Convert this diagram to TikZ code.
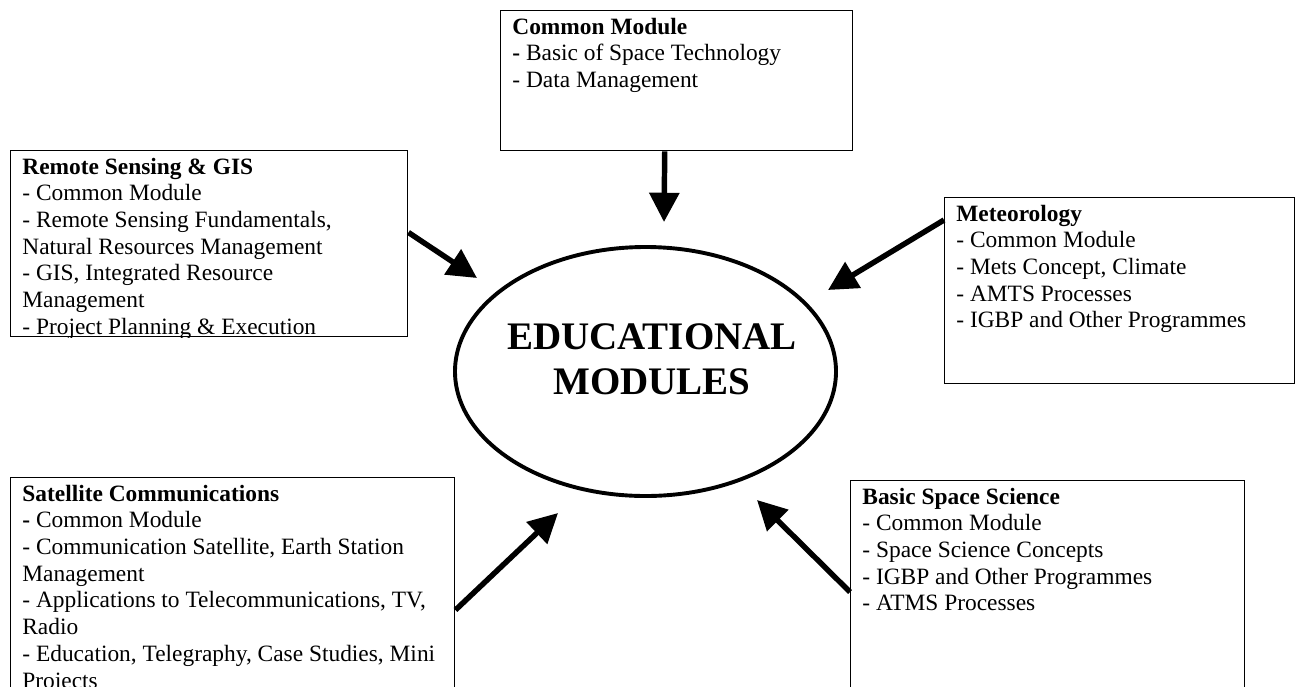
\documentclass[tikz,border=0pt]{standalone}
\usepackage{fontspec}
\setmainfont{Liberation Serif}
\usetikzlibrary{arrows.meta,calc,shapes.geometric}
\newdimen\PX
\PX=0.5128pt
\begin{document}
\begin{tikzpicture}[x=0.5128pt,y=-0.5128pt,
  box/.style={draw, line width=0.75pt, rectangle, inner sep=0pt, anchor=north west},
  txt/.style={anchor=north west, inner sep=0pt, font=\fontsize{12pt}{13.7pt}\selectfont},
  arr/.style={line width=2.8pt, -{Triangle[length=15pt,width=15pt]}},
  mainell/.style={ellipse, draw, line width=2pt, inner sep=0pt},
  maintxt/.style={font=\fontsize{20pt}{23pt}\selectfont\bfseries, align=center, inner sep=0pt}
]
\useasboundingbox (0,0) rectangle (1300,686);

% boxes
\node[box, minimum width=352*\PX, minimum height=140*\PX] (cm) at (500,10) {};
\node[box, minimum width=397*\PX, minimum height=186*\PX] (rs) at (10,150) {};
\node[box, minimum width=350*\PX, minimum height=186*\PX] (met) at (944,197) {};
\node[box, minimum width=444*\PX, minimum height=260*\PX] (sat) at (10,477) {};
\node[box, minimum width=394*\PX, minimum height=260*\PX] (bss) at (850,480) {};

% box texts
\node[txt] (cmt) at ($(cm.north west)+(12,5)$) {\parbox[t]{500\PX}{\strut\textbf{Common Module}\\\textbf{-} Basic of Space Technology\\- Data Management}};

\begin{scope}
\clip (rs.north west) rectangle (rs.south east);
\node[txt] (rst) at ($(rs.north west)+(12,5)$) {\parbox[t]{500\PX}{\strut\textbf{Remote Sensing \& GIS}\\- Common Module\\- Remote Sensing Fundamentals,\\Natural Resources Management\\- GIS, Integrated Resource\\Management\\- Project Planning \& Execution}};
\end{scope}

\node[txt] (mett) at ($(met.north west)+(12,5)$) {\parbox[t]{500\PX}{\strut\textbf{Meteorology}\\- Common Module\\- Mets Concept, Climate\\- AMTS Processes\\- IGBP and Other Programmes}};

\node[txt] (satt) at ($(sat.north west)+(12,5)$) {\parbox[t]{600\PX}{\strut\textbf{Satellite Communications}\\\textbf{-} Common Module\\- Communication Satellite, Earth Station\\Management\\- Applications to Telecommunications, TV,\\Radio\\- Education, Telegraphy, Case Studies, Mini\\Projects}};

\node[txt] (bsst) at ($(bss.north west)+(12,5)$) {\parbox[t]{500\PX}{\strut\textbf{Basic Space Science}\\- Common Module\\- Space Science Concepts\\- IGBP and Other Programmes\\- ATMS Processes}};

% central ellipse
\node[mainell, minimum width=381*\PX, minimum height=249*\PX] (em) at (645.5,371.5) {};
\node[maintxt] (emt) at (652,359.5) {EDUCATIONAL\\MODULES};

% arrow tips
\coordinate (tcm) at (664,222);
\coordinate (trs) at (477,278);
\coordinate (tmet) at (828,290);
\coordinate (tsat) at (558,513);
\coordinate (tbss) at (757,500);

\draw[arr] ($(cm.south)+(-12,0)$) -- (tcm);
\draw[arr] ($(rs.north east)!0.44!(rs.south east)$) -- (trs);
\draw[arr] ($(met.north west)+(0,23)$) -- (tmet);
\draw[arr] ($(sat.north east)+(0,133)$) -- (tsat);
\draw[arr] ($(bss.north west)+(0,112)$) -- (tbss);
\end{tikzpicture}
\end{document}
